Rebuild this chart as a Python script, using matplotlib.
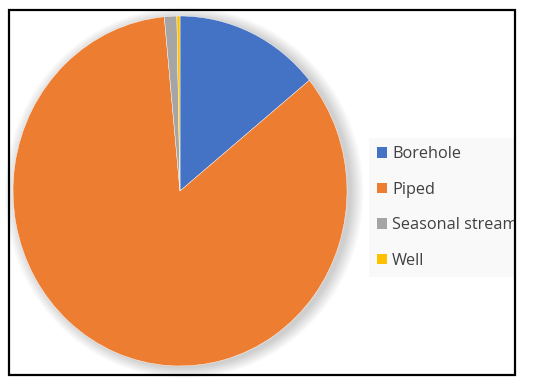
import matplotlib
matplotlib.use('Agg')
from matplotlib import pyplot as plt
from matplotlib.patches import Rectangle, Ellipse, Patch

# data
sources = ['Borehole', 'Piped', 'Seasonal stream', 'Well']
shares = [14.1, 84.4, 1.2, 0.3]
colors = ['#4472C4', '#ED7D31', '#A5A5A5', '#FFC000']

W, H = 550, 385
fig = plt.figure(figsize=(W / 100, H / 100), dpi=100)
fig.patch.set_facecolor('white')

# pie area (pixel coords of centre and radii)
cx, cy, rx, ry = 180, 191, 167, 175
ax = fig.add_axes([(cx - rx) / W, (H - cy - ry) / H, 2 * rx / W, 2 * ry / H])

# soft shadow behind the pie, mostly to the right
for i in range(16):
    e = Ellipse((0.025, -0.01), 2 + i * 0.01, 2 + i * 0.008,
                facecolor='black', edgecolor='none', alpha=0.012, zorder=0)
    e.set_clip_on(False)
    ax.add_patch(e)

wedges, _ = ax.pie(shares, colors=colors, startangle=90, counterclock=False,
                   wedgeprops=dict(edgecolor='white', linewidth=0.3))
for w in wedges:
    w.set_zorder(2)
ax.set_aspect('auto')
ax.set_xlim(-1, 1)
ax.set_ylim(-1, 1)
ax.axis('off')

# legend
handles = [Patch(facecolor=c, edgecolor='none') for c in colors]
leg = fig.legend(handles, sources, loc='upper left',
                 bbox_to_anchor=(361 / W, 1 - 130 / H),
                 frameon=True, fancybox=False, handlelength=0.6, handleheight=0.6,
                 handletextpad=0.3, labelspacing=1.2, borderpad=0.5,
                 prop={'family': 'Open Sans', 'size': 11.7})
leg.get_frame().set_facecolor('#f8f8f8')
leg.get_frame().set_edgecolor('none')
for t in leg.get_texts():
    t.set_color('#404040')

# outer black frame
fig.add_artist(Rectangle((9 / W, 10 / H), 506 / W, 365 / H, transform=fig.transFigure,
                         facecolor='none', edgecolor='black', linewidth=1.6, zorder=10))
# white area right of the frame hides legend overflow
fig.add_artist(Rectangle((516 / W, 0), 1, 1, transform=fig.transFigure,
                         facecolor='white', edgecolor='none', zorder=9))

fig.savefig('out.png', dpi=100)
